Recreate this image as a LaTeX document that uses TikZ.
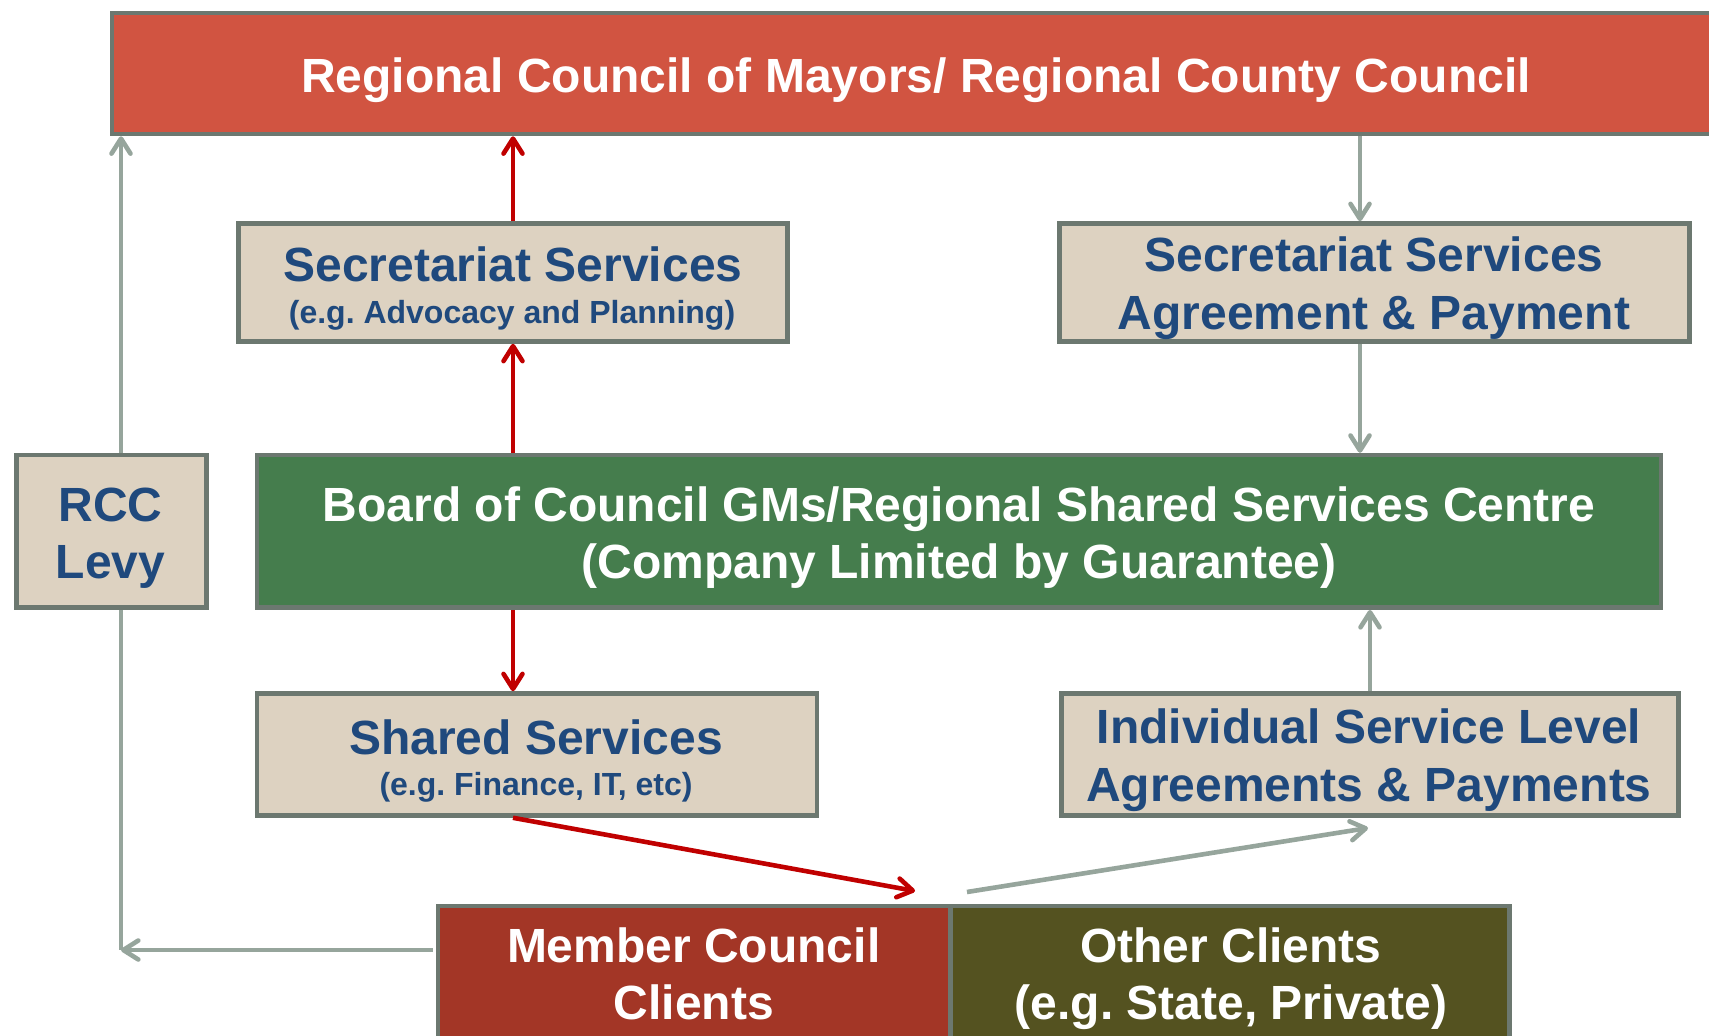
\documentclass[tikz,border=0pt]{standalone}
\usepackage{fontspec}
\setmainfont{Liberation Sans}
\usetikzlibrary{arrows.meta}
\frenchspacing
\definecolor{topred}{HTML}{D15441}
\definecolor{memred}{HTML}{A33626}
\definecolor{boardgreen}{HTML}{457D4D}
\definecolor{otherolive}{HTML}{545220}
\definecolor{beige}{HTML}{DDD2C1}
\definecolor{bordergray}{HTML}{6C7870}
\definecolor{txtblue}{HTML}{1F497D}
\definecolor{arrred}{HTML}{C00000}
\definecolor{arrgray}{HTML}{96A59C}
\begin{document}
\begin{tikzpicture}[x=1pt,y=-1pt,
  box/.style={draw=bordergray, line width=4.6pt, inner sep=0pt, rectangle},
  bigtxt/.style={anchor=base, inner sep=0pt, font=\bfseries\fontsize{48}{56}\selectfont},
  smalltxt/.style={anchor=base, inner sep=0pt, font=\bfseries\fontsize{32}{38}\selectfont},
  bluetxt/.style={text=txtblue},
  whitetxt/.style={text=white},
  redarr/.style={draw=arrred, line width=4.6pt, -{Straight Barb[length=15pt,width=19pt,round]}},
  grayarr/.style={draw=arrgray, line width=4.6pt, -{Straight Barb[length=15pt,width=19pt,round]}},
  grayline/.style={draw=arrgray, line width=4.6pt}]
\clip (0,0) rectangle (1709,1036);
\fill[white] (0,0) rectangle (1709,1036);

% boxes
\node[box, fill=topred, minimum width=1618pt, minimum height=121pt] (top) at (921,73.5) {};
\node[box, fill=beige, minimum width=549pt, minimum height=118pt] (secL) at (513,282.5) {};
\node[box, fill=beige, minimum width=630pt, minimum height=118pt] (secR) at (1374.5,282.5) {};
\node[box, fill=beige, minimum width=190pt, minimum height=152.6pt] (rcc) at (111.5,531.4) {};
\node[box, fill=boardgreen, minimum width=1404pt, minimum height=152.6pt] (board) at (958.8,531.4) {};
\node[box, fill=beige, minimum width=560pt, minimum height=122pt] (shared) at (537,754.5) {};
\node[box, fill=beige, minimum width=617.4pt, minimum height=122pt] (isl) at (1370,754.5) {};
\node[box, fill=memred, minimum width=512.7pt, minimum height=164pt] (member) at (694.15,988) {};
\node[box, fill=otherolive, minimum width=559.2pt, minimum height=164pt] (other) at (1230.1,988) {};

% texts
\node[bigtxt, whitetxt] (toptxt) at (916,92) {Regional Council of Mayors/ Regional County Council};
\node[bigtxt, bluetxt] (secLa) at (513,281.5) {Secretariat Services};
\node[smalltxt, bluetxt] (secLb) at (512,323) {(e.g. Advocacy and Planning)};
\node[bigtxt, bluetxt] (secRa) at (1374,271) {Secretariat Services};
\node[bigtxt, bluetxt] (secRb) at (1374,329) {Agreement \& Payment};
\node[bigtxt, bluetxt] (rcca) at (110.6,521) {RCC};
\node[bigtxt, bluetxt] (rccb) at (110.6,578.5) {Levy};
\node[bigtxt, whitetxt] (boarda) at (959,521) {Board of Council GMs/Regional Shared Services Centre};
\node[bigtxt, whitetxt] (boardb) at (959,578.5) {(Company Limited by Guarantee)};
\node[bigtxt, bluetxt] (shareda) at (536,754) {Shared Services};
\node[smalltxt, bluetxt] (sharedb) at (536,795.5) {(e.g. Finance, IT, etc)};
\node[bigtxt, bluetxt] (isla) at (1369,743) {Individual Service Level};
\node[bigtxt, bluetxt] (islb) at (1369,801.5) {Agreements \& Payments};
\node[bigtxt, whitetxt] (mema) at (693.7,962) {Member Council};
\node[bigtxt, whitetxt] (memb) at (693.7,1019) {Clients};
\node[bigtxt, whitetxt] (othera) at (1231,962) {Other Clients};
\node[bigtxt, whitetxt] (otherb) at (1231,1019) {(e.g. State, Private)};

% coordinates
\coordinate (xg) at (1360,0);
\coordinate (xL) at (121,0);
\coordinate (corner) at (121,950);
\coordinate (rtip) at (915,891);
\coordinate (gstart) at (967,892);
\coordinate (gtip) at (1368,828);

% red connectors
\draw[redarr] (secL.north) -- (secL.north |- top.south);
\draw[redarr] (board.north -| secL.south) -- (secL.south);
\draw[redarr] (board.south -| secL.south) -- (shared.north -| secL.south);
\draw[redarr] (shared.south -| secL.south) -- (rtip);

% gray connectors
\draw[grayarr] (top.south -| xg) -- (secR.north -| xg);
\draw[grayarr] (secR.south -| xg) -- (board.north -| xg);
\draw[grayarr] (isl.north) -- (isl.north |- board.south);
\draw[grayarr] (gstart) -- (gtip);
\draw[grayarr] (rcc.north -| xL) -- (top.south -| xL);
\draw[grayline] (rcc.south -| xL) -- (corner);
\draw[grayarr] ([xshift=-3pt]member.west |- corner) -- (corner);
\end{tikzpicture}
\end{document}
